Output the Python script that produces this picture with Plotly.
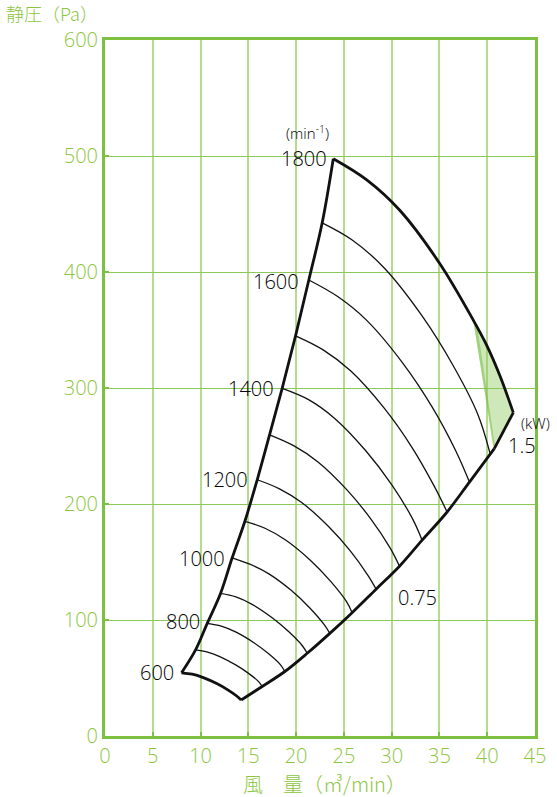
import plotly.graph_objects as go

# ---- data ----
x_ticks = [0, 5, 10, 15, 20, 25, 30, 35, 40, 45]
y_ticks = [0, 100, 200, 300, 400, 500, 600]

# max-speed (1800 min^-1) curve
q1800 = [23.89, 27.39, 30.87, 35.06, 38.54, 40.0, 41.33, 42.73]
p1800 = [497.6, 479.4, 453.0, 406.9, 358.5, 335.9, 310.5, 278.8]

# left boundary (surge side) through the start of every speed curve
q_left = [8.01, 9.48, 10.70, 12.09, 13.31, 14.64, 15.93, 17.22, 18.54, 19.94, 21.33, 22.73, 23.89]
p_left = [54.5, 74.2, 97.1, 122.9, 153.6, 185.1, 220.9, 259.6, 299.7, 345.0, 393.1, 442.4, 497.6]

# lower boundary (0.75 kW side) through the end of every speed curve
q_low = [14.25, 16.45, 18.82, 21.16, 23.53, 25.86, 28.37, 30.82, 33.19, 35.80, 38.14, 40.74]
p_low = [31.0, 42.7, 55.6, 71.3, 88.5, 106.3, 126.6, 146.4, 168.8, 193.1, 218.9, 247.8]

# 1.5 kW segment
q_kw = [40.74, 42.73]
p_kw = [247.8, 278.8]

# 600 min^-1 curve (bottom outline)
q600 = [8.01, 9.13, 10.29, 11.69, 12.85, 13.78, 14.25]
p600 = [54.5, 53.3, 50.3, 45.2, 39.8, 34.5, 31.0]

# intermediate speed curves (min^-1)
speeds = [700, 800, 900, 1000, 1100, 1200, 1300, 1400, 1500, 1600, 1700]
curve_q = {
    700:  [9.48, 10.65, 12.01, 13.63, 14.99, 16.07, 16.45],
    800:  [10.70, 12.17, 13.72, 15.58, 17.13, 18.37, 18.82],
    900:  [12.09, 13.70, 15.44, 17.53, 19.27, 20.67, 21.16],
    1000: [13.31, 15.22, 17.15, 19.48, 21.41, 22.96, 23.53],
    1100: [14.64, 16.74, 18.86, 21.43, 23.55, 25.26, 25.86],
    1200: [15.93, 18.26, 20.58, 23.37, 25.69, 27.55, 28.37],
    1300: [17.22, 19.78, 22.29, 25.32, 27.83, 29.85, 30.82],
    1400: [18.54, 21.30, 24.01, 27.27, 29.98, 32.15, 33.19],
    1500: [19.94, 22.83, 25.73, 29.22, 32.12, 34.44, 35.80],
    1600: [21.33, 24.35, 27.44, 31.16, 34.26, 36.74, 38.14],
    1700: [22.73, 25.87, 29.15, 33.11, 36.40, 39.03, 40.30],
}
curve_p = {
    700:  [74.2, 72.5, 68.5, 61.5, 54.2, 46.9, 42.7],
    800:  [97.1, 94.7, 89.5, 80.4, 70.8, 61.3, 55.6],
    900:  [122.9, 119.9, 113.3, 101.7, 89.6, 77.6, 71.3],
    1000: [153.6, 147.9, 139.8, 125.6, 110.6, 95.8, 88.5],
    1100: [185.1, 179.1, 169.2, 152.0, 133.9, 116.0, 106.3],
    1200: [220.9, 213.1, 201.3, 180.8, 159.3, 138.0, 126.6],
    1300: [259.6, 250.1, 236.3, 212.2, 187.0, 162.0, 146.4],
    1400: [299.7, 290.0, 274.0, 246.1, 216.9, 187.8, 168.8],
    1500: [345.0, 332.9, 314.6, 282.6, 248.9, 215.6, 193.1],
    1600: [393.1, 378.8, 357.9, 321.5, 283.3, 245.3, 218.9],
    1700: [442.4, 427.6, 404.1, 363.0, 319.8, 277.0, 243.5],
}

# shaded region near the 1.5 kW limit
q_fill = [38.54, 39.3, 40.0, 40.7, 41.33, 42.05, 42.73, 40.74, 38.54]
p_fill = [358.5, 347.0, 335.9, 323.8, 310.5, 295.5, 278.8, 247.8, 358.5]
q_strip = [38.54, 38.98, 40.80, 40.62, 38.54]
p_strip = [358.5, 351.8, 250.5, 249.5, 358.5]

# speed labels
rpm_labels = ["600", "800", "1000", "1200", "1400", "1600", "1800"]
rpm_label_q = [7.43, 10.12, 12.74, 15.17, 17.86, 20.48, 23.44]
rpm_label_p = [54.5, 98.5, 153.0, 221.1, 300.0, 392.2, 497.8]

GREEN = "#7cc142"
LABEL_GREEN = "#8cc63f"
VGRID = "#b4db90"
HGRID = "#8cc858"
BLACK = "#111111"
NUM_FAMILY = "Open Sans"

fig = go.Figure()

fig.add_trace(go.Scatter(x=q_fill, y=p_fill, mode="lines", fill="toself",
                         fillcolor="rgba(140,200,90,0.42)", line=dict(width=0),
                         hoverinfo="skip"))
fig.add_trace(go.Scatter(x=q_strip, y=p_strip, mode="lines", fill="toself",
                         fillcolor="rgba(120,190,70,0.55)", line=dict(width=0),
                         hoverinfo="skip"))

for n in speeds:
    fig.add_trace(go.Scatter(x=curve_q[n], y=curve_p[n], mode="lines",
                             line=dict(color=BLACK, width=1.3, shape="spline"),
                             hoverinfo="skip"))

thick = dict(color=BLACK, width=2.8)
fig.add_trace(go.Scatter(x=q_left, y=p_left, mode="lines",
                         line=dict(**thick, shape="spline"), hoverinfo="skip"))
fig.add_trace(go.Scatter(x=q1800, y=p1800, mode="lines",
                         line=dict(**thick, shape="spline"), hoverinfo="skip"))
fig.add_trace(go.Scatter(x=q_low, y=p_low, mode="lines",
                         line=dict(**thick, shape="spline"), hoverinfo="skip"))
fig.add_trace(go.Scatter(x=q_kw, y=p_kw, mode="lines", line=thick, hoverinfo="skip"))
fig.add_trace(go.Scatter(x=q600, y=p600, mode="lines",
                         line=dict(**thick, shape="spline"), hoverinfo="skip"))

num_font = dict(family=NUM_FAMILY, size=20, color="#000000", weight=350)
small_font = dict(family=NUM_FAMILY, size=15, color="#000000", weight=350)
for t, q, p in zip(rpm_labels, rpm_label_q, rpm_label_p):
    fig.add_annotation(x=q, y=p, text=t, showarrow=False, xanchor="right",
                       yanchor="middle", font=num_font)

fig.add_annotation(x=21.24, y=520, text="(min<sup>-1</sup>)", showarrow=False,
                   xanchor="center", yanchor="middle", font=small_font)
fig.add_annotation(x=32.74, y=119.5, text="0.75", showarrow=False,
                   xanchor="center", yanchor="middle", font=num_font)
fig.add_annotation(x=43.6, y=250.6, text="1.5", showarrow=False,
                   xanchor="center", yanchor="middle", font=num_font)
fig.add_annotation(x=43.3, y=270.0, text="(kW)", showarrow=False,
                   xanchor="left", yanchor="middle", font=small_font)

fig.add_annotation(xref="paper", yref="paper", x=-0.235, y=1.0, yshift=27,
                   text="静圧（Pa）", showarrow=False, xanchor="left", yanchor="middle",
                   font=dict(family="Noto Sans CJK JP", size=18, color=LABEL_GREEN, weight=300))
fig.add_annotation(xref="paper", yref="paper", x=0.51, y=0.0, yshift=-47,
                   text="風　量（㎥/min）", showarrow=False, xanchor="center", yanchor="middle",
                   font=dict(family="Noto Sans CJK JP", size=20, color=LABEL_GREEN, weight=300))

fig.update_layout(
    width=557, height=797,
    margin=dict(l=105, r=22, t=40, b=61),
    paper_bgcolor="white", plot_bgcolor="white",
    showlegend=False,
    font=dict(family="Open Sans"),
)
tick_font = dict(family=NUM_FAMILY, size=20, color=LABEL_GREEN, weight=300)
fig.update_xaxes(range=[0, 45], tickvals=x_ticks, ticktext=[str(v) for v in x_ticks],
                 showgrid=True, gridcolor=VGRID, gridwidth=1.6,
                 showline=True, linecolor=GREEN, linewidth=3, mirror=True,
                 ticks="inside", ticklen=4, tickwidth=2, tickcolor=GREEN,
                 tickfont=tick_font, zeroline=False, fixedrange=True)
fig.update_yaxes(range=[0, 600], tickvals=y_ticks, ticktext=[str(v) for v in y_ticks],
                 showgrid=True, gridcolor=HGRID, gridwidth=1.1,
                 showline=True, linecolor=GREEN, linewidth=3, mirror=True,
                 ticks="inside", ticklen=4, tickwidth=2, tickcolor=GREEN,
                 tickfont=tick_font, zeroline=False, fixedrange=True)

fig.write_html("out.html", config={"displayModeBar": False},
               post_script="document.body.style.margin='0';document.body.style.overflow='hidden';")
